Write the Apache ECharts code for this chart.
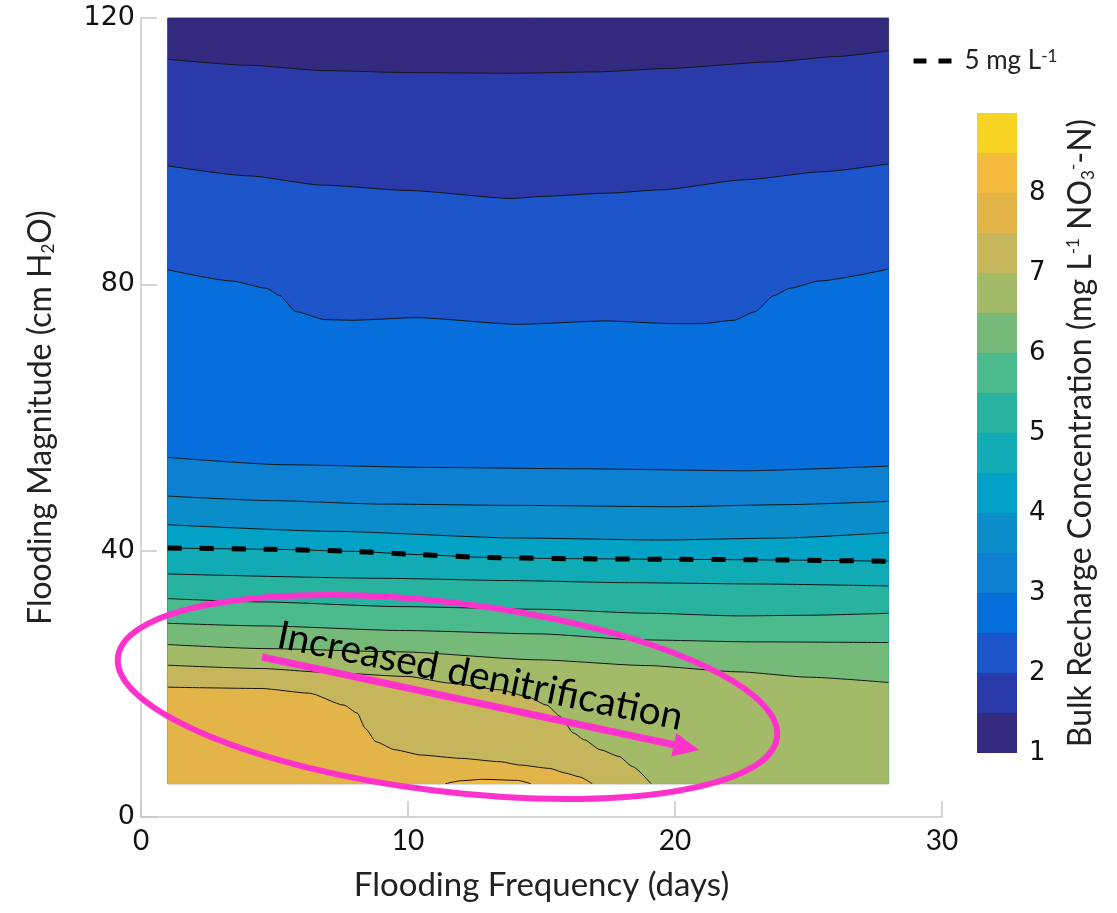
<!DOCTYPE html>
<html>
<head>
<meta charset="utf-8">
<title>Bulk recharge concentration</title>
<script src="https://cdn.jsdelivr.net/npm/echarts@6/dist/echarts.min.js"></script>
<style>
  html, body { margin: 0; padding: 0; background: #fff; }
  #chart { width: 1117px; height: 913px; }
</style>
</head>
<body>
<div id="chart"></div>
<script>
// colour bands of the colour bar, 0.5 mg/L each
const levels = [1, 1.5, 2, 2.5, 3, 3.5, 4, 4.5, 5, 5.5, 6, 6.5, 7, 7.5, 8, 8.5, 9];
const bandColors = ['#33297f', '#2a3ba9', '#1c54c9', '#066fdb', '#0e80d2', '#0b8dca', '#02a2c6', '#11abb5',
  '#27b3a0', '#4bbb8d', '#76ba7a', '#a3bb68', '#c5b65c', '#e3b447', '#f4ba3c', '#f7d423'];
const cbTicks = [1, 2, 3, 4, 5, 6, 7, 8];

// extent of the modelled field
const freqRange = [1, 28];
const magRange = [5, 120];

// contour lines [frequency (days), magnitude (cm H2O)], from the top down
const c01 = [[1, 113.8], [4, 112.9], [6.9, 112.1], [10, 111.8], [13.9, 111.7], [17, 111.9], [19.6, 112.4], [23.6, 113.4], [26, 114.2], [28, 115.1]];
const c02 = [[1, 97.8], [4, 96.3], [6.8, 94.9], [10, 94.1], [13.9, 92.9], [15, 93.2], [17.5, 93.7], [19.5, 94.2], [22.6, 95.7], [25.5, 96.9], [28, 98.1]];
const c03 = [[1, 82.2], [3.4, 80.5], [4.7, 79.4], [5.2, 78.3], [5.8, 75.9], [6.9, 74.7], [7.9, 74.6], [10.3, 75.0], [14.1, 74.0], [17.4, 74.5],
  [19.9, 74.1], [21, 74.1], [22.2, 74.6], [23, 75.9], [23.7, 78.3], [24.3, 79.4], [25.4, 80.5], [28, 82.3]];
const c04 = [[1, 54.0], [5.4, 52.9], [10.8, 52.5], [16.3, 52.3], [22.6, 52.0], [28, 52.7]];
const c05 = [[1, 48.2], [5, 47.5], [9, 47.0], [14, 46.8], [19.9, 46.6], [24, 46.9], [28, 47.4]];
const c06 = [[1, 43.9], [7.2, 42.9], [14.1, 41.9], [19.5, 41.6], [24, 41.9], [28, 42.7]];
const c07 = [[1, 40.4], [5, 40.2], [7.9, 39.9], [10.5, 39.4], [12.7, 39.0], [16, 38.8], [19.9, 38.7], [24, 38.6], [28, 38.4]];
const c08 = [[1, 36.5], [9, 35.85], [14, 35.5], [18.1, 35.2], [23, 35.0], [28, 34.7]];
const c09 = [[1, 32.8], [4.5, 32.3], [9.7, 31.6], [14.9, 31.2], [19, 30.6], [22.4, 30.2], [25, 30.3], [28, 30.6]];
const c10 = [[1, 29.1], [4.5, 28.7], [9.9, 28.0], [14.9, 27.5], [18.7, 26.6], [23, 26.3], [28, 26.2]];
const c11 = [[1, 25.9], [4.5, 25.3], [9.7, 24.8], [14.9, 23.6], [18.9, 22.75], [22.4, 21.8], [25, 21.0], [28, 20.2]];
const c12 = [[1, 22.8], [4.5, 22.3], [7, 21.7], [10, 21.1], [11.6, 20.1], [13.45, 19.1], [14.45, 18.1], [15.2, 16.8], [15.7, 15.1], [16.2, 12.6],
  [16.6, 11.6], [17.2, 10.1], [17.9, 9.1], [18.4, 7.6], [19.1, 5]];
const c13 = [[1, 19.5], [4.5, 19.3], [6.3, 18.6], [7.6, 16.8], [8.1, 15.6], [8.4, 13.3], [8.8, 11.3], [9.5, 10.1], [10.5, 9.3], [12, 8.8],
  [13.45, 8.3], [14.2, 7.8], [15.3, 7.3], [15.9, 6.6], [16.4, 6.05], [16.9, 5]];
const c14 = [[11.4, 5], [12, 5.45], [12.8, 5.66], [14.1, 5.5], [14.6, 5]];

const contours = [c01, c02, c03, c04, c05, c06, c07, c08, c09, c10, c11, c12, c13, c14];
const dashedContour = c07; // the 5 mg/L line
const dashedName = '5 mg L-1';

const chart = echarts.init(document.getElementById('chart'));

const sup = { fontSize: 17, verticalAlign: 'top', lineHeight: 16 };
const sub = { fontSize: 17, verticalAlign: 'bottom', lineHeight: 12 };

const series = [];

// band 1 covers the whole field, each contour then paints the band below it
series.push({
  type: 'line',
  data: [[freqRange[0], magRange[1]], [freqRange[1], magRange[1]]],
  symbol: 'none',
  silent: true,
  lineStyle: { width: 0 },
  areaStyle: { color: bandColors[0], opacity: 1, origin: magRange[0] },
  z: 2
});

contours.forEach((c, i) => {
  series.push({
    type: 'line',
    data: c,
    symbol: 'none',
    smooth: 0.2,
    smoothMonotone: 'x',
    silent: true,
    lineStyle: { color: '#151515', width: 1 },
    areaStyle: { color: bandColors[i + 1], opacity: 1, origin: magRange[0] },
    z: 2
  });
});

series.push({
  name: dashedName,
  type: 'line',
  data: dashedContour,
  symbol: 'none',
  smooth: 0.2,
  silent: true,
  itemStyle: { color: '#000' },
  lineStyle: { color: '#000', width: 5, type: [14, 18] },
  z: 4,
  markArea: {
    silent: true,
    itemStyle: { color: 'rgba(0,0,0,0)', borderColor: '#4a4a4a', borderWidth: 1 },
    data: [[{ coord: [freqRange[0], magRange[0]] }, { coord: [freqRange[1], magRange[1]] }]]
  }
});

// colour bar: stacked bar segments
series.push({
  type: 'bar', xAxisIndex: 1, yAxisIndex: 1, stack: 'cb', silent: true,
  barWidth: '100%', data: [levels[0]], itemStyle: { color: 'rgba(0,0,0,0)' }
});
for (let i = 0; i < bandColors.length; i++) {
  series.push({
    type: 'bar', xAxisIndex: 1, yAxisIndex: 1, stack: 'cb', silent: true,
    barWidth: '100%', data: [levels[i + 1] - levels[i]], itemStyle: { color: bandColors[i] }
  });
}

const axisGray = { color: '#c8c8c8', width: 1.5 };

const option = {
  animation: false,
  backgroundColor: '#fff',
  legend: {
    data: [dashedName],
    left: 906,
    top: 43,
    itemWidth: 38,
    itemHeight: 14,
    itemGap: 10,
    formatter: () => '5 mg L{sup|-1}',
    textStyle: { fontFamily: 'Lato', fontSize: 26, color: '#222', padding: [0, 0, 0, 8], rich: { sup: sup } },
    itemStyle: { opacity: 0 },
    lineStyle: { width: 5, type: [13, 12], color: '#000' }
  },
  grid: [
    { left: 141, top: 18, width: 801, height: 799 },
    { left: 977, top: 113, width: 40, height: 640 }
  ],
  xAxis: [
    {
      type: 'value', min: 0, max: 30, interval: 10,
      axisLine: { lineStyle: axisGray },
      axisTick: { inside: true, length: 16, lineStyle: axisGray },
      splitLine: { show: false },
      axisLabel: { fontFamily: 'Lato', fontSize: 28, color: '#111', margin: 10 },
      name: 'Flooding Frequency (days)',
      nameLocation: 'middle',
      nameGap: 52,
      nameTextStyle: { fontFamily: 'Lato', fontSize: 33, color: '#222' }
    },
    { gridIndex: 1, type: 'category', data: ['cb'], show: false }
  ],
  yAxis: [
    {
      type: 'value', min: 0, max: 120, interval: 40,
      axisLine: { lineStyle: axisGray },
      axisTick: { inside: true, length: 16, lineStyle: axisGray },
      splitLine: { show: false },
      axisLabel: { fontFamily: 'DejaVu Sans', fontSize: 27, color: '#111', margin: 6 },
      name: 'Flooding Magnitude (cm H{sub|2}O)',
      nameLocation: 'middle',
      nameRotate: 90,
      nameGap: 84,
      nameTextStyle: { fontFamily: 'Lato', fontSize: 32, color: '#222', rich: { sub: sub } }
    },
    {
      gridIndex: 1, type: 'value', min: 1, max: 9, interval: 1, position: 'right',
      axisLine: { show: false },
      axisTick: { show: false },
      splitLine: { show: false },
      axisLabel: {
        fontFamily: 'DejaVu Sans', fontSize: 26, color: '#111', margin: 12,
        formatter: v => (cbTicks.includes(v) ? String(v) : '')
      },
      name: 'Bulk Recharge Concentration (mg L{sup|-1} NO{sub|3}{sup|-}-N)',
      nameLocation: 'middle',
      nameRotate: 90,
      nameGap: 48,
      nameTextStyle: { fontFamily: 'Lato', fontSize: 32, color: '#222', rich: { sup: sup, sub: sub } }
    }
  ],
  series: series,
  graphic: [
    {
      type: 'ellipse',
      x: 447.5, y: 697, rotation: -0.121,
      shape: { cx: 0, cy: 0, rx: 332, ry: 94.5 },
      style: { fill: 'none', stroke: '#ff33cc', lineWidth: 6 },
      silent: true,
      z: 100
    },
    {
      type: 'group',
      x: 262, y: 657, rotation: -0.2097,
      silent: true,
      z: 100,
      children: [
        { type: 'line', shape: { x1: 0, y1: 0, x2: 425, y2: 0 }, style: { stroke: '#ff33cc', lineWidth: 7 }, z: 100 },
        { type: 'polygon', shape: { points: [[421, -12], [447, 0], [421, 12]] }, style: { fill: '#ff33cc' }, z: 100 }
      ]
    },
    {
      type: 'text',
      x: 274, y: 654, rotation: -0.2025,
      silent: true,
      z: 101,
      style: { text: 'Increased denitrification', font: '39px Lato', fill: '#000', textVerticalAlign: 'bottom' }
    }
  ]
};

chart.setOption(option);
</script>
</body>
</html>
